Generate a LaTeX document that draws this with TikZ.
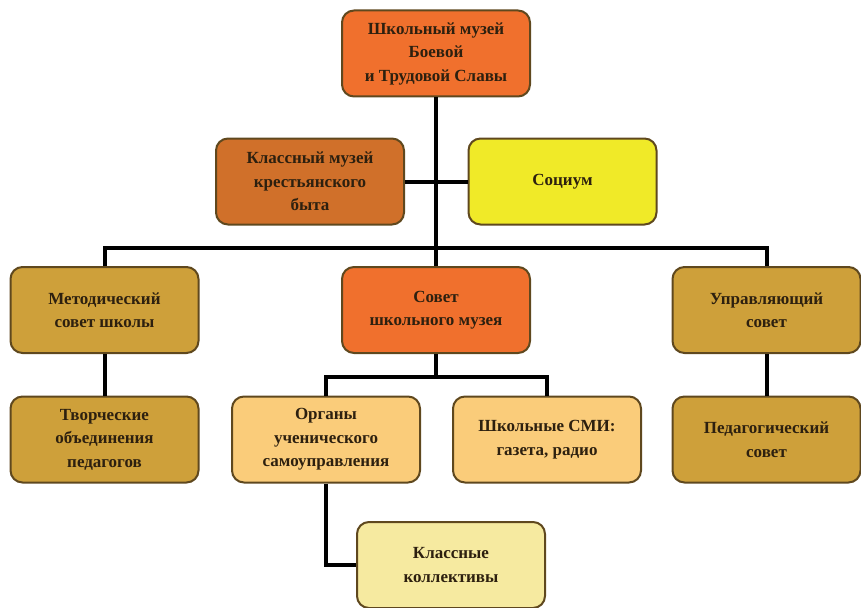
\documentclass[tikz,border=0pt]{standalone}
\usepackage{fontspec}
\setmainfont{Liberation Serif}

\definecolor{museumorange}{RGB}{240,112,45}
\definecolor{classbrown}{RGB}{208,112,42}
\definecolor{sociumyellow}{RGB}{240,234,40}
\definecolor{councilgold}{RGB}{206,160,58}
\definecolor{pupillight}{RGB}{250,204,122}
\definecolor{classpale}{RGB}{246,234,160}
\definecolor{boxline}{RGB}{95,72,30}
\definecolor{boxtext}{RGB}{45,32,15}

\begin{document}
\begin{tikzpicture}[x=1pt, y=-1pt]
        \tikzstyle{every node}=[rectangle, rounded corners=12pt, draw=boxline, line width=2pt, minimum width=188pt, minimum height=86pt, inner sep=2pt, align=center, font=\fontsize{17}{23.5}\selectfont\bfseries, text=boxtext]
        \tikzstyle{edge}=[black, line width=4pt]
        \useasboundingbox (0,0) rectangle (861,607);

        \node[fill=museumorange] (top) at (436,53.5) {Школьный музей\\Боевой\\и Трудовой Славы};
        \node[fill=classbrown] (klmuz) at (310,181.5) {Классный музей\\крестьянского\\быта};
        \node[fill=sociumyellow] (socium) at (562.5,181.5) {Социум};
        \node[fill=councilgold] (metod) at (104.5,310) {Методический\\совет школы};
        \node[fill=museumorange] (sovet) at (436,310) {Совет\\школьного музея};
        \node[fill=councilgold] (upr) at (766.5,310) {Управляющий\\совет};
        \node[fill=councilgold] (tvorch) at (104.5,439.5) {Творческие\\объединения\\педагогов};
        \node[fill=pupillight] (organy) at (326,439.5) {Органы\\ученического\\самоуправления};
        \node[fill=pupillight] (smi) at (547,439.5) {Школьные СМИ:\\газета, радио};
        \node[fill=councilgold] (pedag) at (766.5,439.5) {Педагогический\\совет};
        \node[fill=classpale] (klkol) at (451,565) {Классные\\коллективы};

        \coordinate (bar) at (436,248);
        \coordinate (split) at (436,377);

        \draw[edge] (top) -- (sovet);
        \draw[edge] (klmuz) -- (socium);
        \draw[edge] (metod) |- (bar) -| (upr);
        \draw[edge] (metod) -- (tvorch);
        \draw[edge] (upr) -- (pedag);
        \draw[edge] (sovet) -- (split);
        \draw[edge] (organy) |- (split) -| (smi);
        \draw[edge] (organy) |- (klkol);
    \end{tikzpicture}
\end{document}
